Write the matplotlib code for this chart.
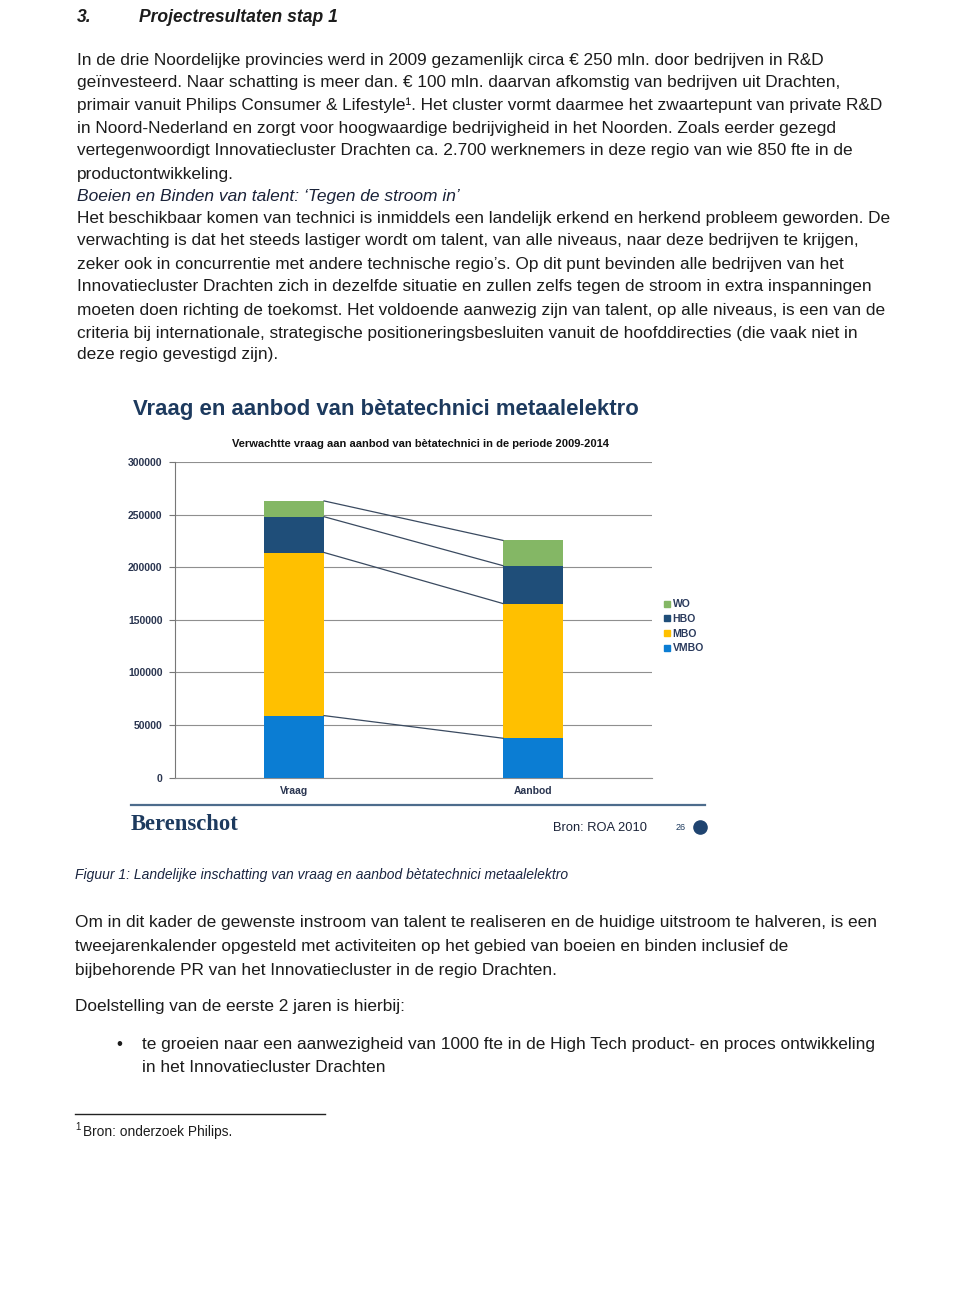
import matplotlib
matplotlib.use("Agg")
import matplotlib.pyplot as plt
import numpy as np
from matplotlib import font_manager as fm
from matplotlib.lines import Line2D

# ---------------- data ----------------
categories = ["Vraag", "Aanbod"]
series_names = ["VMBO", "MBO", "HBO", "WO"]
vmbo = [59000, 37500]
mbo = [155000, 128000]
hbo = [34000, 36000]
wo = [15000, 24000]
y_ticks = [0, 50000, 100000, 150000, 200000, 250000, 300000]

# ---------------- styles ----------------
names = {f.name for f in fm.fontManager.ttflist}
SANS = "Liberation Sans"
NARROW = "Liberation Sans Narrow" if "Liberation Sans Narrow" in names else SANS
SERIF = "Liberation Serif"
NAVY = "#1d3a5e"
TXT = "#1c1c1c"
colors = {"VMBO": "#0b7dd3", "MBO": "#ffc000", "HBO": "#1f4e79", "WO": "#84b765"}

W, H = 960, 1299
fig = plt.figure(figsize=(W / 100, H / 100), dpi=100)
fig.patch.set_facecolor("white")
renderer = fig.canvas.get_renderer()


def X(px):
    return px / W


def Y(px):
    return 1 - px / H


def measure(txt, size, **kw):
    t = fig.text(0, 0, txt, fontsize=size, **kw)
    w = t.get_window_extent(renderer).width
    t.remove()
    return w


def fit_size(txt, target, **kw):
    base = 12
    return base * target / measure(txt, base, **kw)


def put(txt, x, y, size, ha="left", va="center", **kw):
    return fig.text(X(x), Y(y), txt, fontsize=size, ha=ha, va=va, **kw)


# ---------------- heading ----------------
hs = fit_size("Projectresultaten stap 1", 198, family=SANS, weight="bold", style="italic")
put("3.", 77, 18, hs, family=SANS, weight="bold", style="italic", color=TXT)
put("Projectresultaten stap 1", 139, 18, hs, family=SANS, weight="bold", style="italic", color=TXT)

# ---------------- paragraph 1 ----------------
p1 = [
    "In de drie Noordelijke provincies werd in 2009 gezamenlijk circa € 250 mln. door bedrijven in R&D",
    "geïnvesteerd. Naar schatting is meer dan. € 100 mln. daarvan afkomstig van bedrijven uit Drachten,",
    "primair vanuit Philips Consumer & Lifestyle¹. Het cluster vormt daarmee het zwaartepunt van private R&D",
    "in Noord-Nederland en zorgt voor hoogwaardige bedrijvigheid in het Noorden. Zoals eerder gezegd",
    "vertegenwoordigt Innovatiecluster Drachten ca. 2.700 werknemers in deze regio van wie 850 fte in de",
    "productontwikkeling.",
]
p1_y = [60, 82, 105, 128, 151, 174]
s1 = fit_size(p1[0], 748, family=SANS)
for t, yy in zip(p1, p1_y):
    put(t, 77, yy, s1, family=SANS, color=TXT)

# italic subheading
s_it = fit_size("Boeien en Binden van talent: ‘Tegen de stroom in’", 384, family=NARROW, style="italic")
put("Boeien en Binden van talent: ‘Tegen de stroom in’", 77, 197, s_it, family=NARROW, style="italic", color="#1a2238")

p2 = [
    "Het beschikbaar komen van technici is inmiddels een landelijk erkend en herkend probleem geworden. De",
    "verwachting is dat het steeds lastiger wordt om talent, van alle niveaus, naar deze bedrijven te krijgen,",
    "zeker ook in concurrentie met andere technische regio’s. Op dit punt bevinden alle bedrijven van het",
    "Innovatiecluster Drachten zich in dezelfde situatie en zullen zelfs tegen de stroom in extra inspanningen",
    "moeten doen richting de toekomst. Het voldoende aanwezig zijn van talent, op alle niveaus, is een van de",
    "criteria bij internationale, strategische positioneringsbesluiten vanuit de hoofddirecties (die vaak niet in",
    "deze regio gevestigd zijn).",
]
p2_y = [218, 241, 264, 287, 310, 333, 355]
s2 = fit_size(p2[0], 813, family=NARROW)
for t, yy in zip(p2, p2_y):
    put(t, 77, yy, s2, family=NARROW, color=TXT)

# ---------------- chart titles ----------------
st = fit_size("Vraag en aanbod van bètatechnici metaalelektro", 505, family=SANS, weight="bold")
put("Vraag en aanbod van bètatechnici metaalelektro", 133, 410, st, family=SANS, weight="bold", color=NAVY)
sub = "Verwachtte vraag aan aanbod van bètatechnici in de periode 2009-2014"
ss = fit_size(sub, 372, family=NARROW, weight="bold")
put(sub, 421, 444, ss, ha="center", family=NARROW, weight="bold", color="#111111")

# ---------------- chart ----------------
ax = fig.add_axes([X(175), Y(777.7), X(652) - X(175), Y(462) - Y(777.7)])
xpos = np.arange(len(categories))
bw = 0.25
stack = [vmbo, mbo, hbo, wo]
bottom = np.zeros(len(categories))
tops = []
for name, vals in zip(series_names, stack):
    vals = np.array(vals, dtype=float)
    ax.bar(xpos, vals, bw, bottom=bottom, color=colors[name], label=name, zorder=3, linewidth=0)
    bottom = bottom + vals
    tops.append(bottom.copy())
# series lines connecting the tops of the segments
for tp in tops:
    ax.plot([xpos[0] + bw / 2, xpos[1] - bw / 2], [tp[0], tp[1]], color="#3a4a60", lw=0.9, zorder=4)

ax.set_xlim(-0.5, 1.5)
ax.set_ylim(0, 300000)
ax.set_yticks(y_ticks)
ax.set_yticklabels([str(v) for v in y_ticks], family=NARROW, fontsize=7.5, weight="bold", color="#2a3550")
ax.set_xticks(xpos)
ax.set_xticklabels(categories, family=NARROW, fontsize=7.5, weight="bold", color="#2a3550")
ax.tick_params(axis="y", length=4, width=0.8, color="#777777", pad=5)
ax.tick_params(axis="x", length=0, pad=6)
ax.grid(axis="y", color="#8f8f8f", lw=0.8, zorder=0)
for sp in ["top", "right"]:
    ax.spines[sp].set_visible(False)
ax.spines["left"].set_color("#777777")
ax.spines["bottom"].set_color("#8f8f8f")
ax.spines["left"].set_linewidth(0.8)
ax.spines["bottom"].set_linewidth(0.8)
ax.set_facecolor("white")

handles = [Line2D([0], [0], marker="s", ls="none", markersize=4.5, markerfacecolor=colors[n],
                  markeredgecolor=colors[n]) for n in series_names[::-1]]
leg = fig.legend(handles, series_names[::-1], loc="upper left", bbox_to_anchor=(X(659), Y(594)),
                 frameon=False, handlelength=0.6, handletextpad=0.2, labelspacing=0.45,
                 borderpad=0, prop={"family": NARROW, "size": 7.5, "weight": "bold"})
for t in leg.get_texts():
    t.set_color("#2a3a5c")

# footer of the slide
fig.add_artist(Line2D([X(131), X(705)], [Y(805), Y(805)], color="#4d6c8c", lw=1.6))
sb = fit_size("Berenschot", 107, family=SERIF, weight="bold")
put("Berenschot", 131, 824, sb, family=SERIF, weight="bold", color=NAVY)
sr = fit_size("Bron: ROA 2010", 94, family=SANS)
put("Bron: ROA 2010", 553, 828, sr, family=SANS, color="#1a2238")
put("26", 676, 828, 6.5, family=NARROW, color=NAVY)
fig.add_artist(Line2D([X(700)], [Y(827)], marker="o", markersize=9.5, ls="none",
                      markerfacecolor="#1f4470", markeredgecolor="#1f4470"))

# ---------------- caption ----------------
cap = "Figuur 1: Landelijke inschatting van vraag en aanbod bètatechnici metaalelektro"
sc = fit_size(cap, 491, family=SANS, style="italic")
put(cap, 75, 875, sc, family=SANS, style="italic", color="#1a2540")

# ---------------- lower text ----------------
p3 = [
    "Om in dit kader de gewenste instroom van talent te realiseren en de huidige uitstroom te halveren, is een",
    "tweejarenkalender opgesteld met activiteiten op het gebied van boeien en binden inclusief de",
    "bijbehorende PR van het Innovatiecluster in de regio Drachten.",
]
p3_y = [923, 947, 971]
s3 = fit_size(p3[0], 803, family=NARROW)
for t, yy in zip(p3, p3_y):
    put(t, 75, yy, s3, family=NARROW, color=TXT)
put("Doelstelling van de eerste 2 jaren is hierbij:", 75, 1007, s3, family=NARROW, color=TXT)
put("•", 116, 1044, s3, family=SANS, color=TXT)
put("te groeien naar een aanwezigheid van 1000 fte in de High Tech product- en proces ontwikkeling",
    142, 1044, s3, family=NARROW, color=TXT)
put("in het Innovatiecluster Drachten", 142, 1068, s3, family=NARROW, color=TXT)

# footnote
fig.add_artist(Line2D([X(75), X(325)], [Y(1114), Y(1114)], color="#222222", lw=1.0))
put("1", 75, 1127, 7, family=SANS, color=TXT)
sf = fit_size("Bron: onderzoek Philips.", 150, family=SANS)
put("Bron: onderzoek Philips.", 83, 1132, sf, family=SANS, color=TXT)

fig.savefig("out.png", dpi=100, facecolor="white")
